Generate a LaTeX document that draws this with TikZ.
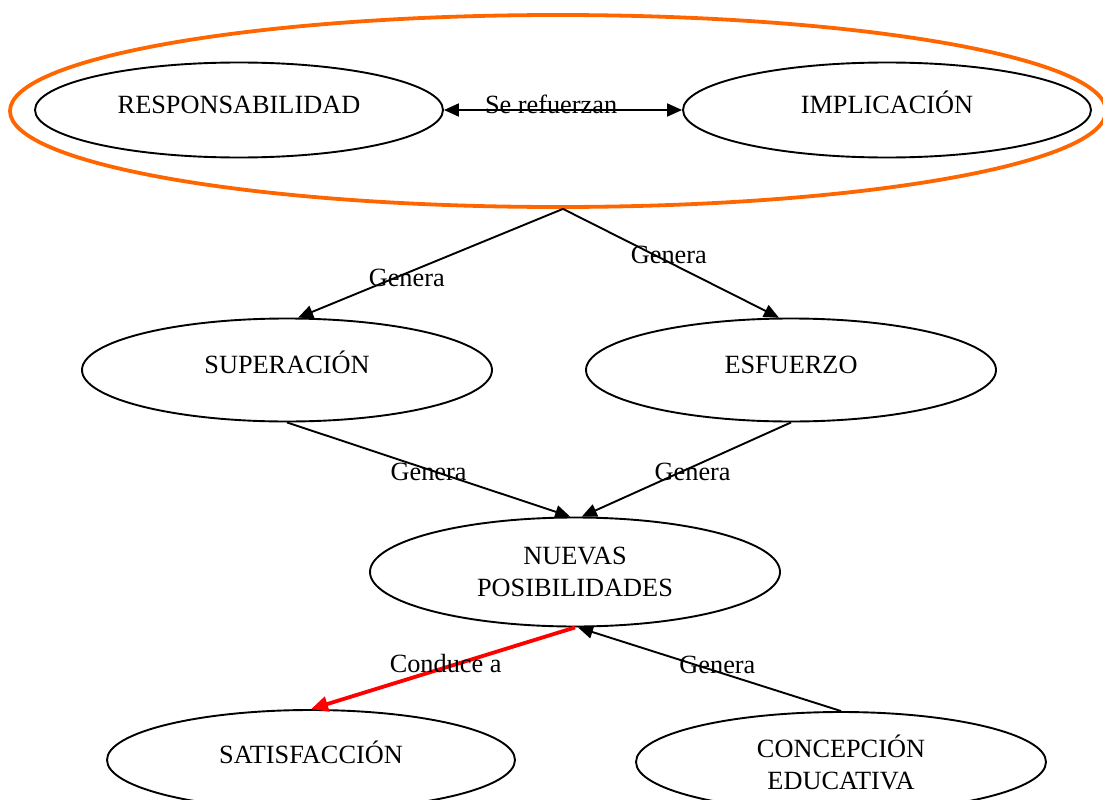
\documentclass[tikz,border=0pt]{standalone}
\usepackage{fontspec}
\setmainfont{Liberation Serif}
\usetikzlibrary{shapes.geometric,arrows.meta}
\definecolor{borange}{RGB}{255,102,0}
\definecolor{bred}{RGB}{255,0,0}
\begin{document}
\begin{tikzpicture}[x=1pt,y=-1pt,
  font=\fontsize{26.3}{32}\selectfont,
  oval/.style={ellipse,draw=black,line width=1.9pt,inner sep=0pt,align=center},
  one/.style={text height=18pt,text depth=11pt},
  group/.style={ellipse,draw=borange,line width=3.8pt,inner sep=0pt},
  conn/.style={line width=1.9pt,-{Triangle[length=15pt,width=13pt]}},
  redconn/.style={draw=bred,line width=3.8pt,-{Triangle[length=17pt,width=15pt]}},
  lbl/.style={inner sep=0pt,text=black}]
\useasboundingbox (0,0) rectangle (1103,800);
\node[group,minimum width=1096pt,minimum height=192pt] (grp) at (558,111) {};
\node[oval,one,minimum width=408pt,minimum height=95pt] (resp) at (239,110) {RESPONSABILIDAD};
\node[oval,one,minimum width=408pt,minimum height=95pt] (impl) at (887,110) {IMPLICACIÓN};
\node[oval,one,minimum width=410pt,minimum height=103pt] (sup) at (287,370) {SUPERACIÓN};
\node[oval,one,minimum width=410pt,minimum height=103pt] (esf) at (791,370) {ESFUERZO};
\node[oval,minimum width=410pt,minimum height=109pt] (nue) at (575,572) {NUEVAS\\POSIBILIDADES};
\node[oval,one,minimum width=408pt,minimum height=100pt] (sat) at (311,760) {SATISFACCIÓN};
\node[oval,minimum width=410pt,minimum height=100pt] (con) at (841,762) {CONCEPCIÓN\\EDUCATIVA};
\draw[line width=1.9pt,{Triangle[length=15pt,width=13pt]}-{Triangle[length=15pt,width=13pt]}] (resp.east) -- node[lbl,pos=0.45,yshift=6pt] {Se refuerzan} (impl.west);
\draw[conn] ([xshift=5pt]grp.south) -- node[lbl,pos=0.59,yshift=-5pt] {Genera} (sup.78);
\draw[conn] ([xshift=5pt]grp.south) -- node[lbl,pos=0.49,yshift=7pt] {Genera} (esf.103);
\draw[conn] (sup.south) -- node[lbl,pos=0.5,yshift=-2pt] {Genera} (nue.95);
\draw[conn] (esf.south) -- node[lbl,pos=0.47,yshift=-5pt] {Genera} (nue.83);
\draw[redconn] (nue.south) -- node[lbl,pos=0.49,yshift=4pt] {Conduce a} (sat.north);
\draw[conn] (con.north) -- node[lbl,pos=0.47,yshift=7pt] {Genera} ([xshift=3pt]nue.south);
\end{tikzpicture}
\end{document}
